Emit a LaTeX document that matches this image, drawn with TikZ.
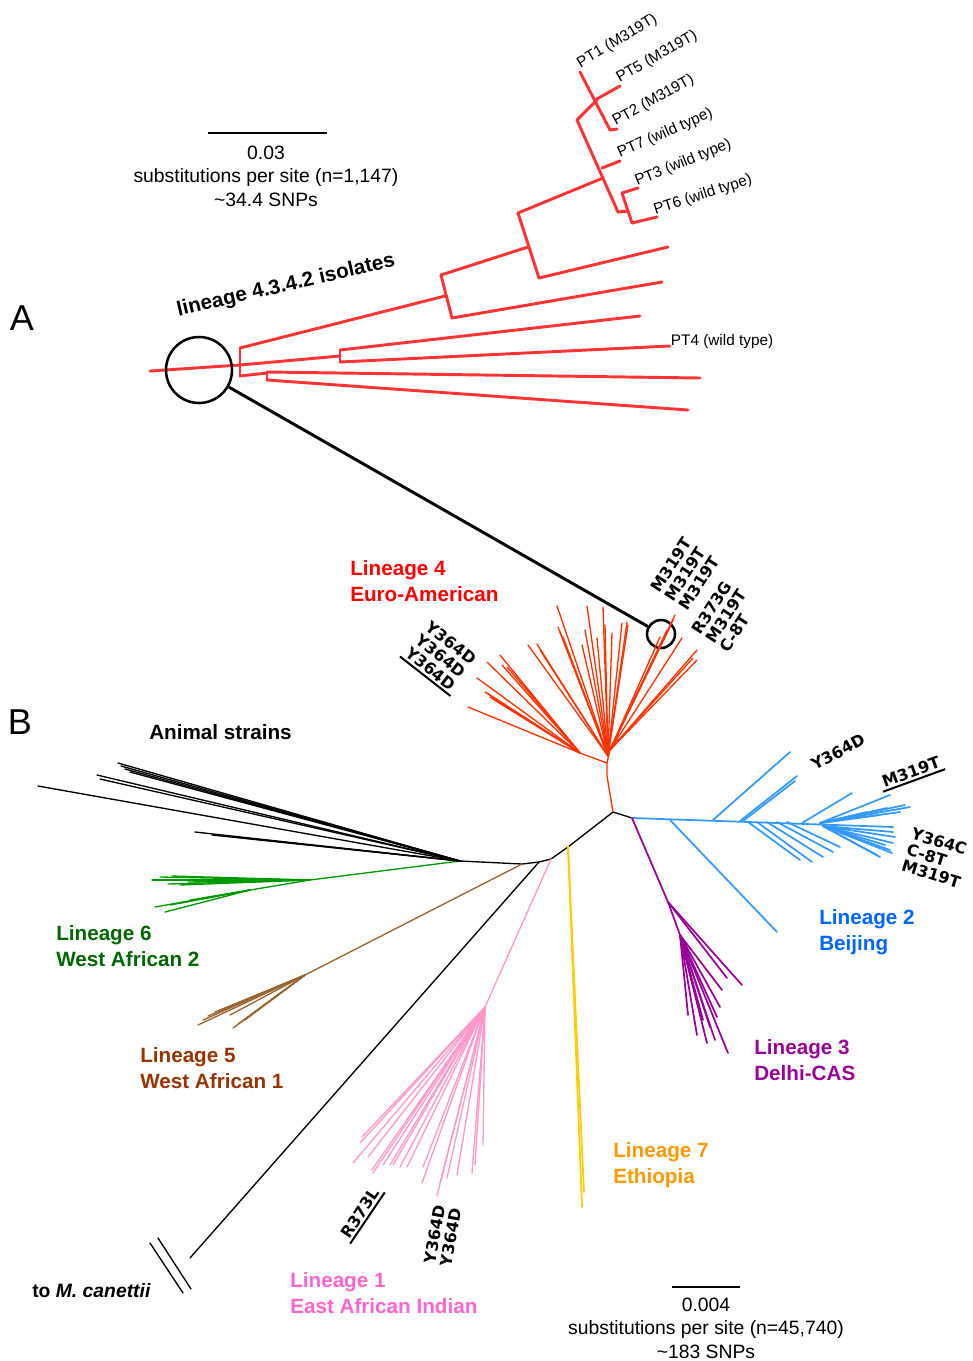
\documentclass[tikz,border=0pt]{standalone}
\usepackage{fontspec}
\setmainfont{Liberation Sans}
\newfontfamily\mutfamily{DejaVu Sans}

\definecolor{treered}{HTML}{FF3333}
\definecolor{linfour}{HTML}{FF3300}
\definecolor{linfourtxt}{HTML}{FF0000}
\definecolor{lintwo}{HTML}{3399FF}
\definecolor{lintwotxt}{HTML}{0066FF}
\definecolor{linthree}{HTML}{990099}
\definecolor{linseven}{HTML}{FFCC00}
\definecolor{linseventxt}{HTML}{FF9900}
\definecolor{linone}{HTML}{FF99CC}
\definecolor{linonetxt}{HTML}{FF66CC}
\definecolor{linfive}{HTML}{996633}
\definecolor{linfivetxt}{HTML}{993300}
\definecolor{linsix}{HTML}{009900}
\definecolor{linsixtxt}{HTML}{006600}

\tikzset{
  topbr/.style={draw=treered, line width=2.2pt, line cap=round},
  br/.style={line width=1pt, line cap=round},
  lineagelbl/.style={anchor=north west, inner sep=0pt, align=left,
    font=\fontsize{15.5}{19.5}\selectfont\bfseries},
  scaletxt/.style={inner sep=0pt, font=\fontsize{14.5}{17}\selectfont},
  ptlbl/.style={anchor=south west, inner sep=0.5pt, font=\fontsize{11.5}{13}\selectfont},
  mutlbl/.style={inner sep=1pt, align=left, font=\mutfamily\bfseries\fontsize{12}{12.5}\selectfont},
}

\begin{document}
\begin{tikzpicture}[x=0.75pt, y=-0.75pt]
    \useasboundingbox (0,0) rectangle (973,1361);

    % panel letters
    \node[font=\fontsize{27}{27}\selectfont] (pa) at (22,318) {A};
    \node[font=\fontsize{27}{27}\selectfont] (pb) at (20,722) {B};

    % scale bar, panel A
    \draw[line width=2.2pt] (208,133) -- (327,133);
    \node[scaletxt] (sa1) at (266,153) {0.03};
    \node[scaletxt] (sa2) at (266,177) {substitutions per site (n=1,147)};
    \node[scaletxt] (sa3) at (266,200) {\textasciitilde34.4 SNPs};

    % lineage 4.3.4.2 tree
    \begin{scope}[topbr]
        \draw (150,371) -- (240,365);
        \draw (240,348) -- (240,376);
        % upper clade
        \draw (240,348) -- (445,296);
        \draw (441,275) -- (452,318);
        \draw (441,275) -- (528,247);
        \draw (518,213) -- (539,278);
        \draw (539,278) -- (668,247);
        \draw (452,318) -- (662,282);
        \draw (518,213) -- (603,178);
        % PT isolates
        \draw (577,120) -- (618,212);
        \draw (577,120) -- (597,100);
        \draw (580,72) -- (610,130);
        \draw (595,100) -- (620,86);
        \draw (610,130) -- (617,129);
        \draw (602,168) -- (620,161);
        \draw (618,212) -- (628,211);
        \draw (622,193) -- (632,223);
        \draw (622,193) -- (638,188);
        \draw (632,223) -- (657,217);
        % middle and lower clades
        \draw (240,365) -- (340,356);
        \draw (340,350) -- (340,362);
        \draw (340,350) -- (640,316);
        \draw (340,362) -- (670,346);
        \draw (240,376) -- (267,373);
        \draw (267,372) -- (267,380);
        \draw (267,372) -- (700,378);
        \draw (267,380) -- (688,410);
    \end{scope}

    % isolate labels
    \node[ptlbl, rotate=31] (pt1) at (582,72) {PT1 (M319T)};
    \node[ptlbl, rotate=30] (pt5) at (621,87) {PT5 (M319T)};
    \node[ptlbl, rotate=29] (pt2) at (617,130) {PT2 (M319T)};
    \node[ptlbl, rotate=24] (pt7) at (621,162) {PT7 (wild type)};
    \node[ptlbl, rotate=22] (pt3) at (638,190) {PT3 (wild type)};
    \node[ptlbl, rotate=18] (pt6) at (656,219) {PT6 (wild type)};
    \node[ptlbl, anchor=base west] (pt4) at (670,345) {PT4 (wild type)};
    \node[rotate=13, inner sep=0pt, font=\fontsize{15.5}{17}\selectfont\bfseries] (iso) at (286,286) {lineage 4.3.4.2 isolates};

    % zoom circles
    \node[draw, circle, line width=1.9pt, minimum size=49.5pt, inner sep=0pt] (bigc) at (199,370) {};
    \node[draw, circle, line width=1.9pt, minimum size=21pt, inner sep=0pt] (smallc) at (661,634) {};
    \draw[line width=2.2pt] (bigc) -- (smallc);

    % central backbone
    \draw[br, black] (460,861) -- (522,864) -- (539,862) -- (551,859) -- (568,847) -- (613,812) -- (632,818);
    % branch to M. canettii
    \draw[br, black] (539,862) -- (190,1258);
    \draw[br, black] (150,1243) -- (183,1293);
    \draw[br, black] (158,1238) -- (191,1289);

    % lineage 4
    \begin{scope}[br, linfour]
        \draw (613,812) -- (607,776) -- (607,763) -- (610,750);
        \draw (607,763) -- (580,753);
        \foreach \x/\y in {468/707, 477/678, 485/692, 487/693, 490/697, 493/699, 487/662, 500/655, 502/665, 507/667, 512/670}
            \draw (580,753) -- (\x,\y);
        \foreach \x/\y in {528/645, 537/644, 540/650, 557/606, 558/627, 560/632, 563/637, 582/645, 585/630, 587/606, 597/638, 603/607, 605/625, 612/633, 622/623, 627/622, 628/625}
            \draw (608,756) -- (\x,\y);
        \foreach \x/\y in {675/615, 673/620, 670/627, 667/630, 660/637, 682/638, 697/650, 697/660, 693/658}
            \draw (610,750) -- (\x,\y);
    \end{scope}

    % lineage 2
    \begin{scope}[br, lintwo, line width=1.3pt]
        \draw (632,818) -- (893,827);
        \draw (670,820) -- (777,932);
        \draw (713,820) -- (790,752);
        \draw (740,821) -- (797,776);
        \draw (743,821) -- (795,781);
        \foreach \s/\x/\y in {748/800/860, 757/812/862, 767/823/857, 777/833/852, 787/840/847}
            \draw (\s,822) -- (\x,\y);
        \draw (802,823) -- (852,793);
        \foreach \x/\y in {890/795, 910/807, 887/808, 867/812, 900/812, 880/815, 905/805}
            \draw (820,823) -- (\x,\y);
        \foreach \x/\y in {893/832, 895/837, 893/843, 890/850, 880/857, 877/855, 892/853, 885/845}
            \draw (823,826) -- (\x,\y);
    \end{scope}

    % lineage 3
    \begin{scope}[br, linthree, line width=1.3pt]
        \draw (632,818) -- (668,902);
        \draw (668,902) -- (742,985);
        \draw (668,902) -- (727,978);
        \draw (668,902) -- (680,935);
        \foreach \x/\y in {688/1015, 707/1043, 728/1053, 722/990, 710/1027, 703/1020, 717/1017, 720/1007, 697/1035, 715/1040}
            \draw (680,935) -- (\x,\y);
    \end{scope}

    % lineage 7
    \draw[br, linseven, line width=1.3pt] (568,846) -- (582,1207);
    \draw[br, linseven, line width=1.3pt] (568,846) -- (584,1192);

    % lineage 1
    \begin{scope}[br, linone]
        \draw (551,859) -- (485,1007);
        \foreach \x/\y in {353/1163, 360/1143, 362/1137, 368/1157, 373/1173, 372/1170, 383/1165, 390/1165, 393/1165, 400/1167, 407/1167, 422/1183, 423/1167, 437/1196, 440/1183, 447/1178, 457/1175, 472/1173, 475/1165, 483/1145}
            \draw (485,1007) -- (\x,\y);
    \end{scope}

    % lineage 5
    \begin{scope}[br, linfive]
        \draw (522,864) -- (305,975);
        \foreach \x/\y in {198/1025, 203/1020, 208/1016, 215/1012, 222/1010, 233/1028, 238/1024, 245/1020, 230/1015, 255/1012, 260/1008}
            \draw (305,975) -- (\x,\y);
    \end{scope}

    % lineage 6
    \begin{scope}[br, linsix]
        \draw (460,861) -- (310,880);
        \foreach \x/\y in {152/880, 160/877, 172/876, 168/884, 180/885, 188/882}
            \draw (310,880) -- (\x,\y);
        \draw (310,880) -- (250,890);
        \foreach \x/\y in {155/907, 165/912, 170/905, 180/903, 190/900}
            \draw (250,890) -- (\x,\y);
    \end{scope}

    % animal strains
    \foreach \x/\y in {38/786, 97/775, 100/779, 118/763, 121/766, 125/769, 130/772, 195/832, 212/835, 235/837}
        \draw[br, black] (460,861) -- (\x,\y);

    % lineage names
    \node[lineagelbl, linfourtxt] (l4) at (350,560) {Lineage 4\\Euro-American};
    \node[lineagelbl, lintwotxt] (l2) at (819,909) {Lineage 2\\Beijing};
    \node[lineagelbl, linthree] (l3) at (754,1039) {Lineage 3\\Delhi-CAS};
    \node[lineagelbl, linseventxt] (l7) at (613,1142) {Lineage 7\\Ethiopia};
    \node[lineagelbl, linonetxt] (l1) at (290,1272) {Lineage 1\\East African Indian};
    \node[lineagelbl, linfivetxt] (l5) at (140,1047) {Lineage 5\\West African 1};
    \node[lineagelbl, linsixtxt] (l6) at (56,925) {Lineage 6\\West African 2};
    \node[lineagelbl] (anim) at (149,724) {Animal strains};
    \node[lineagelbl, font=\fontsize{14.5}{17}\selectfont\bfseries] (can) at (32,1283) {to \textit{M. canettii}};

    % mutation labels
    \node[mutlbl, rotate=57] (m4a) at (685,574) {M319T\\M319T\\M319T};
    \node[mutlbl, rotate=57] (m4b) at (726,616) {R373G\\M319T\\C-8T};
    \node[mutlbl, rotate=-38, inner sep=2pt] (m4c) at (441,656) {Y364D\\Y364D\\Y364D};
    \draw[line width=1.5pt] (m4c.south west) -- (m4c.south east);
    \node[mutlbl, rotate=28] (m2a) at (838,752) {Y364D};
    \node[mutlbl, rotate=20, inner sep=2pt] (m2b) at (911,772) {M319T};
    \draw[line width=1.5pt] (m2b.south west) -- (m2b.south east);
    \node[mutlbl, rotate=-17] (m2c) at (936,858) {Y364C\\C-8T\\M319T};
    \node[mutlbl, rotate=56, inner sep=2pt] (m1a) at (360,1213) {R373L};
    \draw[line width=1.5pt] (m1a.south west) -- (m1a.south east);
    \node[mutlbl, rotate=80] (m1b) at (443,1236) {Y364D\\Y364D};

    % scale bar, panel B
    \draw[line width=2.2pt] (672,1287) -- (740,1287);
    \node[scaletxt] (sb1) at (706,1305) {0.004};
    \node[scaletxt] (sb2) at (706,1329) {substitutions per site (n=45,740)};
    \node[scaletxt] (sb3) at (706,1352) {\textasciitilde183 SNPs};
\end{tikzpicture}
\end{document}
